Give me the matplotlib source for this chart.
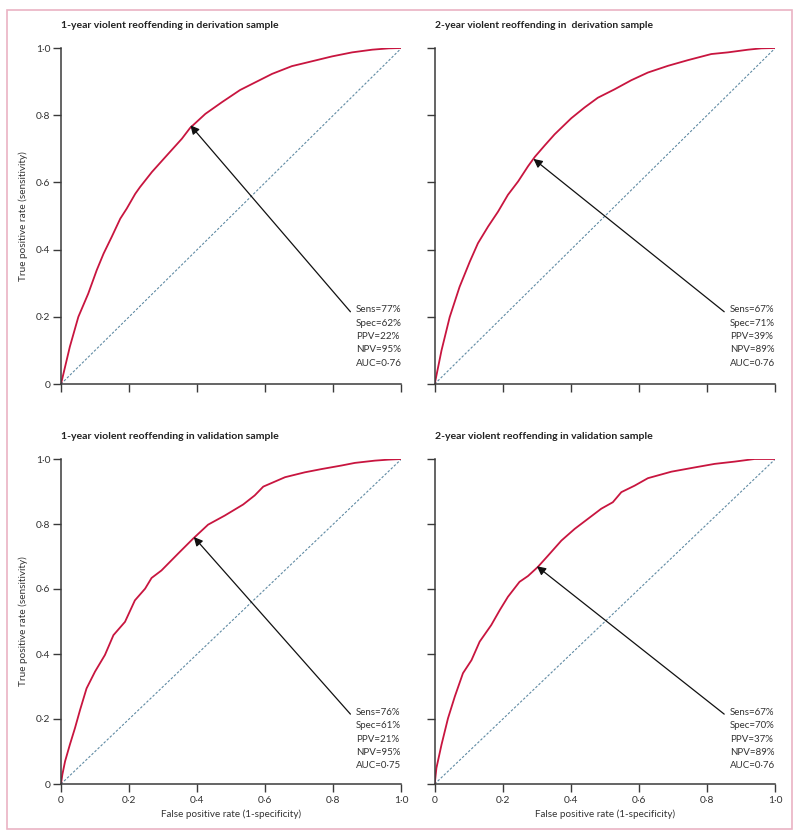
import matplotlib
matplotlib.use('Agg')
import matplotlib.pyplot as plt
from matplotlib.patches import Rectangle

plt.rcParams['font.family'] = ['Lato', 'DejaVu Sans']

# ROC curves
fpr_1y_deriv = [0, 0.026, 0.051, 0.080, 0.105, 0.125, 0.149, 0.174, 0.193, 0.218, 0.232, 0.267, 0.306,
                0.355, 0.379, 0.424, 0.473, 0.526, 0.571, 0.620, 0.678, 0.727, 0.796, 0.855, 0.914, 0.963, 1.0]
tpr_1y_deriv = [0, 0.111, 0.200, 0.269, 0.339, 0.388, 0.438, 0.492, 0.522, 0.566, 0.586, 0.631, 0.675,
                0.730, 0.762, 0.804, 0.839, 0.875, 0.898, 0.923, 0.946, 0.958, 0.975, 0.987, 0.995, 0.999, 1.0]

fpr_2y_deriv = [0, 0.020, 0.044, 0.073, 0.103, 0.127, 0.157, 0.186, 0.215, 0.245, 0.274, 0.294, 0.323,
                0.352, 0.401, 0.440, 0.479, 0.528, 0.577, 0.626, 0.685, 0.744, 0.812, 0.861, 0.920, 0.959, 1.0]
tpr_2y_deriv = [0, 0.100, 0.199, 0.289, 0.364, 0.419, 0.469, 0.513, 0.563, 0.603, 0.648, 0.676, 0.710,
                0.743, 0.791, 0.823, 0.852, 0.877, 0.904, 0.927, 0.947, 0.964, 0.982, 0.987, 0.995, 0.999, 1.0]

fpr_1y_valid = [0, 0.004, 0.012, 0.026, 0.041, 0.056, 0.075, 0.100, 0.129, 0.154, 0.188, 0.217, 0.247, 0.266,
                0.295, 0.344, 0.388, 0.432, 0.481, 0.535, 0.569, 0.594, 0.658, 0.716, 0.765, 0.824, 0.863,
                0.922, 0.961, 1.0]
tpr_1y_valid = [0, 0.029, 0.070, 0.121, 0.172, 0.228, 0.294, 0.346, 0.397, 0.458, 0.499, 0.565, 0.601, 0.634,
                0.657, 0.709, 0.755, 0.798, 0.826, 0.860, 0.888, 0.915, 0.944, 0.959, 0.969, 0.980, 0.988,
                0.995, 0.998, 1.0]

fpr_2y_valid = [0, 0.005, 0.020, 0.039, 0.059, 0.083, 0.108, 0.132, 0.166, 0.191, 0.215, 0.249, 0.274, 0.303,
                0.333, 0.372, 0.411, 0.450, 0.489, 0.523, 0.548, 0.587, 0.626, 0.695, 0.763, 0.822, 0.881,
                0.939, 1.0]
tpr_2y_valid = [0, 0.049, 0.121, 0.202, 0.269, 0.341, 0.381, 0.438, 0.489, 0.535, 0.576, 0.622, 0.640, 0.668,
                0.703, 0.749, 0.785, 0.816, 0.847, 0.867, 0.898, 0.918, 0.941, 0.961, 0.974, 0.985, 0.992,
                1.0, 1.0]

titles = ['1-year violent reoffending in derivation sample',
          '2-year violent reoffending in  derivation sample',
          '1-year violent reoffending in validation sample',
          '2-year violent reoffending in validation sample']
fprs = [fpr_1y_deriv, fpr_2y_deriv, fpr_1y_valid, fpr_2y_valid]
tprs = [tpr_1y_deriv, tpr_2y_deriv, tpr_1y_valid, tpr_2y_valid]

sens = [77, 67, 76, 67]
spec = [62, 71, 61, 70]
ppv = [22, 39, 21, 37]
npv = [95, 89, 95, 89]
auc = ['0·76', '0·76', '0·75', '0·76']

ticks = [0, 0.2, 0.4, 0.6, 0.8, 1.0]
tick_labels = ['0', '0·2', '0·4', '0·6', '0·8', '1·0']

red = '#c8153f'
diag_col = '#5f8aa3'
dark = '#3a3a3a'
text_col = '#333333'

W, H = 800, 839
fig = plt.figure(figsize=(W / 100, H / 100), dpi=100)
fig.patches.append(Rectangle((0.009, 0.012), 0.981, 0.976, transform=fig.transFigure,
                             fill=False, edgecolor='#eab3c3', linewidth=1.2))

# axes boxes in pixels: left, bottom(from top), right, top(from top)
boxes = [(61, 384, 401.5, 48), (434.7, 384, 775.3, 48),
         (61, 784, 401.5, 459), (434.7, 784, 775.3, 459)]

axes, title_objs, note_objs = [], [], []
for i, (x0, y0, x1, y1) in enumerate(boxes):
    ax = fig.add_axes([x0 / W, 1 - y0 / H, (x1 - x0) / W, (y0 - y1) / H])
    h_px = y0 - y1
    ax.plot([0, 1], [0, 1], color=diag_col, linewidth=0.8, dashes=(2.2, 1.6))
    ax.plot(fprs[i], tprs[i], color=red, linewidth=1.3)
    ax.set_xlim(0, 1)
    ax.set_ylim(0, 1)
    for s in ['top', 'right']:
        ax.spines[s].set_visible(False)
    for s in ['left', 'bottom']:
        ax.spines[s].set_color(dark)
        ax.spines[s].set_linewidth(1.1)
    ax.set_xticks(ticks)
    ax.set_yticks(ticks)
    ax.tick_params(direction='out', length=6, width=1.0, color=dark, labelsize=8,
                   labelcolor=text_col)
    ax.tick_params(axis='y', pad=1.5)
    ax.tick_params(axis='x', pad=2.5)
    if i >= 2:
        ax.set_xticklabels(tick_labels)
        ax.set_xlabel('False positive rate (1-specificity)', fontsize=8, color=text_col)
        ax.xaxis.label.set_va('center')
        ax.xaxis.set_label_coords(0.5, -30 / h_px)
    else:
        ax.set_xticklabels([])
    if i % 2 == 0:
        ax.set_yticklabels(tick_labels)
        ax.set_ylabel('True positive rate (sensitivity)', fontsize=8, color=text_col)
        ax.yaxis.label.set_va('center')
        ax.yaxis.set_label_coords((23 - x0) / (x1 - x0), 0.5)
    else:
        ax.set_yticklabels([])
    t = ax.text(0, 1 + 23 / h_px, titles[i], transform=ax.transAxes, ha='left', va='center',
                fontsize=8, fontweight='bold', color='#222222')
    title_objs.append(t)

    txt = (f'Sens={sens[i]}%\nSpec={spec[i]}%\nPPV={ppv[i]}%\n'
           f'NPV={npv[i]}%\nAUC={auc[i]}')
    n = ax.text(0.866, 0.234, txt, fontsize=8, color=text_col, va='top', ha='left',
                linespacing=1.2)
    note_objs.append(n)
    ax.annotate('', xy=(1 - spec[i] / 100, sens[i] / 100), xytext=(0.85, 0.215),
                arrowprops=dict(arrowstyle='-|>', color='#111111', lw=0.9,
                                mutation_scale=13, shrinkA=0, shrinkB=0))
    axes.append(ax)

# scale font sizes so text sizes match the pixel sizes measured on the original
fig.canvas.draw()
r = fig.canvas.get_renderer()


def fit(t, target, horizontal=True):
    bb = t.get_window_extent(r)
    size = bb.width if horizontal else bb.height
    t.set_fontsize(t.get_fontsize() * target / size)


for t in title_objs:
    fit(t, 219)
for n in note_objs:
    fit(n, 46)
    # line pitch of 14 px
    one = fig.text(0, 0, 'Sens', fontsize=n.get_fontsize())
    h1 = one.get_window_extent(r).height
    one.remove()
    h5 = n.get_window_extent(r).height
    pitch = (h5 - h1) / 4
    n.set_linespacing(1.2 * 14 / pitch)

fit(axes[2].xaxis.label, 141)
fit(axes[2].yaxis.label, 130, horizontal=False)
axes[3].xaxis.label.set_fontsize(axes[2].xaxis.label.get_fontsize())
axes[0].yaxis.label.set_fontsize(axes[2].yaxis.label.get_fontsize())

tl = axes[2].get_yticklabels()[4]
tick_size = tl.get_fontsize() * 14.5 / tl.get_window_extent(r).width
for ax in axes:
    ax.tick_params(labelsize=tick_size)

fig.savefig('out.png', dpi=100)
